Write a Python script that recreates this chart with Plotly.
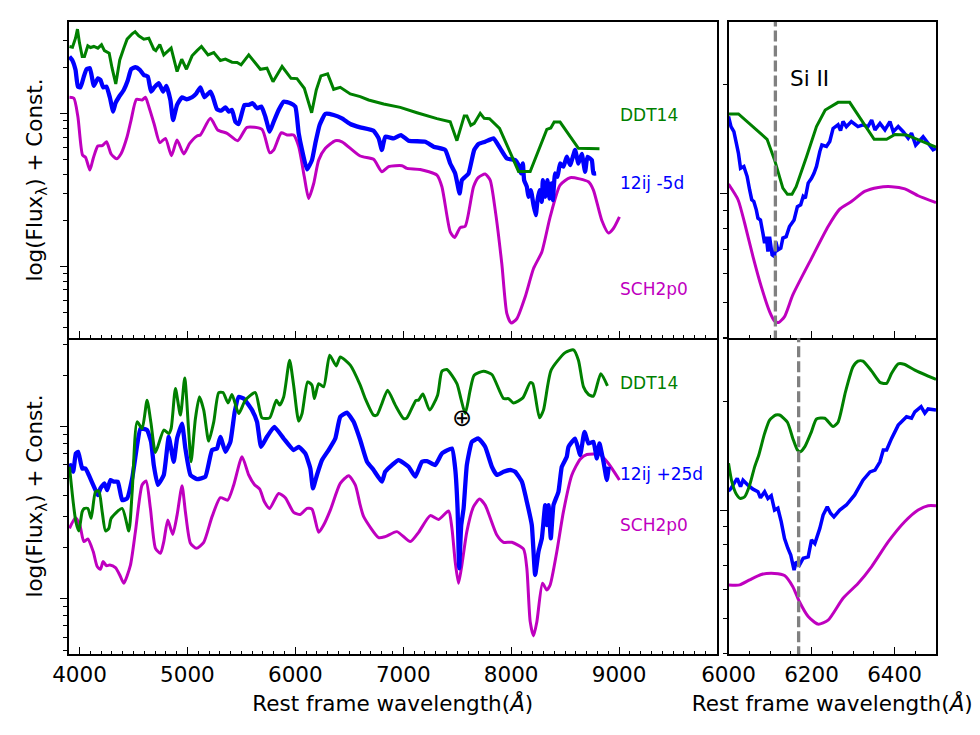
import numpy as np
import plotly.graph_objects as go

# spectra: wavelength (A) and log10(flux) + const per panel
top_ddt_wave = [3907, 3935, 3963, 3981, 4000, 4025, 4046, 4077, 4102, 4133, 4170, 4204, 4231, 4275, 4302, 4336, 4373, 4410, 4441, 4488, 4515, 4549, 4596, 4642, 4688, 4707, 4744, 4781, 4849, 4904, 4947, 4991, 5043, 5089, 5130, 5191, 5244, 5305, 5352, 5413, 5460, 5497, 5568, 5676, 5737, 5793, 5877, 5960, 6015, 6083, 6151, 6194, 6237, 6299, 6355, 6416, 6509, 6601, 6679, 6818, 6972, 7127, 7312, 7435, 7497, 7565, 7589, 7626, 7657, 7713, 7750, 7799, 7892, 8068, 8176, 8330, 8367, 8398, 8453, 8623, 8818]
top_ddt_flux = [.437, .432, .491, .550, .459, .371, .371, .441, .430, .437, .426, .448, .410, .393, .295, .192, .349, .426, .485, .520, .533, .507, .485, .491, .419, .410, .450, .382, .426, .273, .354, .288, .376, .410, .437, .382, .397, .345, .354, .334, .332, .317, .382, .288, .295, .207, .306, .229, .227, .164, .004, .153, .245, .258, .157, .170, .127, .109, .087, .061, .039, .004, -.035, -.055, -.179, -.017, -.017, -.079, -.066, 0, -.033, -.035, -.098, -.380, -.380, -.105, -.096, -.057, -.057, -.229, -.231]

top_obs_wave = [3907, 3932, 3963, 3985, 4009, 4040, 4065, 4096, 4133, 4170, 4194, 4219, 4250, 4281, 4312, 4333, 4364, 4410, 4447, 4478, 4518, 4559, 4596, 4633, 4663, 4694, 4734, 4775, 4805, 4842, 4867, 4904, 4950, 4991, 5043, 5083, 5120, 5157, 5213, 5237, 5274, 5312, 5352, 5383, 5413, 5444, 5475, 5528, 5568, 5605, 5645, 5685, 5722, 5762, 5799, 5845, 5892, 5954, 6000, 6031, 6062, 6108, 6154, 6185, 6225, 6278, 6355, 6432, 6509, 6601, 6725, 6772, 6802, 6833, 6911, 6978, 7049, 7204, 7281, 7389, 7435, 7481, 7522, 7543, 7574, 7605, 7657, 7697, 7759, 7836, 7898, 7960, 8037, 8068, 8089, 8108, 8120, 8145, 8160, 8182, 8207, 8228, 8244, 8262, 8284, 8293, 8315, 8336, 8355, 8373, 8386, 8407, 8429, 8453, 8484, 8515, 8546, 8592, 8623, 8654, 8685, 8707, 8747, 8762, 8787]
top_obs_flux = [.371, .349, .284, .175, .170, .240, .288, .295, .179, .229, .218, .170, .175, .105, .011, .066, .105, .153, .214, .288, .301, .284, .251, .240, .142, .170, .197, .142, .179, .087, -.044, .055, .105, .092, .105, .131, .170, .105, .142, .105, .026, .017, .039, .011, .022, -.055, -.070, .055, .055, .066, .033, .044, -.022, -.120, -.055, .022, .076, .066, .044, -.131, -.240, -.367, -.306, -.197, -.076, -.004, -.011, -.033, -.070, -.092, -.114, -.164, -.240, -.153, -.164, -.142, -.179, -.186, -.218, -.240, -.328, -.393, -.524, -.437, -.415, -.393, -.240, -.201, -.186, -.164, -.229, -.295, -.306, -.338, -.393, -.328, -.437, -.480, -.546, -.502, -.600, -.666, -.568, -.502, -.579, -.437, -.546, -.437, -.557, -.459, -.568, -.393, -.415, -.328, -.349, -.284, -.338, -.240, -.328, -.266, -.382, -.284, -.306, -.393, -.393]

top_sch_wave = [3907, 3948, 3985, 4028, 4056, 4096, 4127, 4170, 4210, 4250, 4293, 4343, 4386, 4441, 4478, 4528, 4580, 4611, 4642, 4694, 4744, 4796, 4852, 4904, 4966, 5021, 5089, 5120, 5213, 5281, 5367, 5466, 5552, 5691, 5762, 5799, 5870, 5923, 5984, 6031, 6083, 6123, 6170, 6216, 6278, 6370, 6432, 6601, 6725, 6802, 6864, 6988, 7034, 7157, 7312, 7358, 7435, 7475, 7528, 7574, 7651, 7697, 7759, 7805, 7852, 7913, 7960, 8000, 8052, 8129, 8207, 8284, 8361, 8453, 8546, 8716, 8762, 8839, 8901, 8947, 9003]
top_sch_flux = [.105, .098, -.022, -.273, -.288, -.371, -.295, -.214, -.212, -.186, -.266, -.297, -.262, -.153, -.044, .092, .087, .105, .044, -.076, -.192, -.164, -.277, -.175, -.266, -.197, -.148, -.142, -.033, -.109, -.131, -.179, -.092, -.105, -.258, -.240, -.127, -.142, -.142, -.218, -.415, -.557, -.459, -.306, -.229, -.179, -.186, -.279, -.301, -.382, -.349, -.343, -.360, -.367, -.404, -.480, -.775, -.812, -.747, -.738, -.480, -.419, -.397, -.437, -.633, -.983, -1.310, -1.371, -1.343, -1.201, -1.015, -.906, -.677, -.469, -.421, -.448, -.502, -.699, -.782, -.753, -.677]

bot_ddt_wave = [3907, 3941, 3966, 3994, 4025, 4046, 4077, 4108, 4148, 4179, 4210, 4241, 4272, 4293, 4395, 4457, 4488, 4534, 4580, 4626, 4663, 4704, 4781, 4827, 4849, 4889, 4935, 4975, 5012, 5034, 5074, 5111, 5151, 5197, 5244, 5290, 5330, 5376, 5413, 5475, 5537, 5629, 5691, 5762, 5824, 5855, 5892, 5947, 5984, 6031, 6062, 6114, 6154, 6176, 6216, 6262, 6318, 6379, 6416, 6509, 6601, 6648, 6725, 6756, 6802, 6855, 6926, 7003, 7034, 7117, 7142, 7182, 7244, 7318, 7358, 7404, 7497, 7534, 7574, 7620, 7657, 7744, 7821, 7929, 7975, 8021, 8108, 8176, 8200, 8262, 8299, 8370, 8500, 8577, 8623, 8670, 8716, 8762, 8830, 8892]
bot_ddt_flux = [-.232, -.435, -.551, -.605, -.493, -.474, -.474, -.532, -.377, -.373, -.493, -.605, -.590, -.532, -.474, -.605, -.377, .029, -.010, .155, .019, -.149, -.019, -.039, -.010, .222, .068, .284, -.029, -.203, .048, .174, .097, -.083, .029, .199, .199, .139, .188, .077, .155, .199, .052, .052, .155, .126, .174, .387, .242, .033, .077, .261, .242, .164, .251, .232, .416, .354, .406, .358, .242, .164, .068, .068, .135, .213, .126, .048, .052, .153, .155, .191, .097, .184, .323, .333, .251, .164, .077, .213, .300, .323, .304, .164, .164, .139, .168, .257, .251, .052, .097, .329, .431, .447, .387, .232, .188, .178, .309, .238]

bot_obs_wave = [3907, 3941, 3966, 3988, 4025, 4056, 4086, 4148, 4170, 4194, 4231, 4256, 4287, 4318, 4355, 4395, 4441, 4488, 4534, 4565, 4626, 4663, 4688, 4725, 4781, 4827, 4873, 4904, 4950, 4981, 5028, 5089, 5166, 5228, 5274, 5305, 5352, 5398, 5438, 5475, 5521, 5599, 5645, 5682, 5737, 5805, 5892, 5984, 6031, 6092, 6139, 6163, 6200, 6247, 6308, 6370, 6416, 6478, 6540, 6601, 6664, 6725, 6802, 6833, 6895, 6957, 7049, 7111, 7173, 7219, 7296, 7358, 7451, 7481, 7503, 7518, 7537, 7559, 7589, 7636, 7697, 7759, 7821, 7867, 7929, 7991, 8037, 8099, 8145, 8191, 8222, 8253, 8284, 8315, 8330, 8346, 8367, 8392, 8438, 8469, 8515, 8531, 8592, 8639, 8679, 8716, 8762, 8793, 8818, 8855, 8886, 8904]
bot_obs_flux = [-.213, -.261, -.155, -.145, -.242, -.242, -.280, -.368, -.397, -.358, -.329, -.368, -.309, -.319, -.319, -.426, -.416, -.300, -.106, -.010, -.019, -.087, -.222, -.338, -.280, -.058, -.203, -.068, .019, -.126, -.280, -.304, -.290, -.135, -.126, -.058, -.145, -.087, .087, .174, .164, .097, .029, -.116, -.058, 0, -.068, -.135, -.116, -.155, -.242, -.358, -.280, -.193, -.135, -.068, .058, .083, .029, -.077, -.203, -.251, -.319, -.261, -.222, -.193, -.232, -.290, -.203, -.199, -.222, -.155, -.126, -.242, -.474, -.822, -.571, -.474, -.222, -.087, -.068, -.116, -.232, -.280, -.261, -.251, -.261, -.319, -.435, -.571, -.861, -.725, -.648, -.455, -.571, -.455, -.648, -.455, -.377, -.232, -.174, -.116, -.068, -.164, -.029, -.097, -.087, -.184, -.097, -.203, -.309, -.232]

bot_sch_wave = [3907, 3963, 4003, 4040, 4077, 4127, 4164, 4194, 4219, 4250, 4281, 4333, 4373, 4410, 4472, 4518, 4580, 4617, 4657, 4704, 4750, 4781, 4818, 4864, 4904, 4950, 4981, 5028, 5083, 5151, 5228, 5305, 5373, 5429, 5506, 5568, 5620, 5670, 5713, 5762, 5845, 5907, 5984, 6046, 6108, 6154, 6216, 6262, 6324, 6416, 6494, 6555, 6601, 6633, 6772, 6833, 6941, 7065, 7142, 7250, 7327, 7420, 7451, 7481, 7512, 7543, 7589, 7651, 7707, 7759, 7867, 7929, 8006, 8114, 8145, 8176, 8207, 8238, 8290, 8330, 8361, 8423, 8484, 8562, 8639, 8701, 8824, 8901, 9003]
bot_sch_flux = [-.590, -.528, -.571, -.667, -.652, -.725, -.812, -.828, -.783, -.807, -.803, -.818, -.861, -.909, -.803, -.609, -.338, -.315, -.474, -.706, -.735, -.667, -.542, -.625, -.513, -.342, -.493, -.677, -.706, -.671, -.522, -.412, -.426, -.338, -.174, -.280, -.335, -.362, -.435, -.474, -.387, -.412, -.497, -.509, -.474, -.478, -.613, -.571, -.484, -.329, -.284, -.338, -.455, -.522, -.644, -.638, -.609, -.667, -.613, -.516, -.538, -.489, -.590, -.783, -.909, -.803, -.609, -.464, -.420, -.455, -.629, -.671, -.671, -.710, -.822, -1.132, -1.215, -1.132, -.909, -.948, -.919, -.725, -.493, -.280, -.188, -.161, -.161, -.213, -.309]

# zoomed Si II panels
si_top_ddt_wave = [6000, 6024, 6093, 6111, 6131, 6142, 6153, 6163, 6188, 6212, 6233, 6264, 6292, 6351, 6381, 6401, 6429, 6500]
si_top_ddt_flux = [.220, .220, .150, .093, .015, -.002, -.002, .019, .102, .185, .231, .252, .252, .150, .150, .163, .162, .128]
si_top_obs_wave = [6000, 6006, 6013, 6019, 6024, 6029, 6037, 6045, 6051, 6056, 6061, 6067, 6071, 6077, 6083, 6087, 6091, 6095, 6099, 6105, 6111, 6114, 6119, 6126, 6131, 6139, 6147, 6158, 6166, 6174, 6180, 6185, 6192, 6200, 6206, 6212, 6220, 6225, 6236, 6244, 6252, 6264, 6270, 6276, 6284, 6296, 6312, 6324, 6336, 6345, 6353, 6365, 6377, 6389, 6397, 6409, 6421, 6433, 6441, 6451, 6459, 6469, 6481, 6493, 6500]
si_top_obs_flux = [.213, .185, .171, .139, .111, .070, .075, .047, .010, -.017, -.022, -.045, -.068, -.073, -.110, -.137, -.119, -.160, -.119, -.169, -.174, -.133, -.156, -.151, -.123, -.119, -.091, -.073, -.036, -.031, -.008, -.013, .029, .042, .056, .075, .116, .134, .130, .144, .180, .190, .174, .199, .185, .199, .185, .190, .185, .203, .176, .194, .176, .199, .171, .185, .171, .153, .167, .134, .144, .157, .139, .121, .125]
si_top_sch_wave = [6000, 6023, 6039, 6059, 6079, 6099, 6111, 6121, 6135, 6155, 6200, 6240, 6268, 6296, 6328, 6361, 6393, 6425, 6457, 6500]
si_top_sch_flux = [.026, -.017, -.082, -.174, -.257, -.326, -.352, -.356, -.340, -.280, -.179, -.091, -.043, -.022, .006, .017, .019, .013, -.006, -.025]

si_bot_ddt_wave = [6000, 6008, 6019, 6029, 6039, 6051, 6063, 6073, 6087, 6099, 6114, 6123, 6142, 6155, 6166, 6173, 6184, 6200, 6212, 6232, 6252, 6264, 6282, 6300, 6312, 6324, 6345, 6366, 6381, 6393, 6409, 6423, 6449, 6500]
si_bot_ddt_flux = [.130, .079, .044, .032, .037, .069, .120, .153, .213, .250, .264, .264, .244, .199, .167, .162, .176, .218, .253, .255, .232, .244, .329, .398, .414, .414, .386, .354, .352, .380, .406, .405, .389, .363]
si_bot_obs_wave = [6000, 6006, 6016, 6021, 6029, 6035, 6047, 6059, 6071, 6077, 6087, 6095, 6103, 6111, 6119, 6127, 6135, 6143, 6150, 6158, 6163, 6171, 6180, 6192, 6200, 6208, 6220, 6228, 6238, 6246, 6254, 6268, 6284, 6304, 6324, 6341, 6353, 6365, 6373, 6381, 6393, 6409, 6429, 6441, 6449, 6464, 6473, 6481, 6500]
si_bot_obs_flux = [.053, .060, .079, .088, .065, .083, .069, .058, .051, .034, .051, .032, .040, 0, .005, -.032, -.079, -.106, -.125, -.167, -.144, -.153, -.134, -.130, -.083, -.093, -.051, -.014, .009, -.009, -.019, 0, .014, .042, .083, .106, .111, .134, .167, .167, .199, .236, .259, .255, .273, .287, .269, .281, .278]
si_bot_sch_wave = [6000, 6027, 6051, 6079, 6111, 6135, 6155, 6171, 6192, 6216, 6240, 6276, 6312, 6345, 6385, 6425, 6457, 6481, 6500]
si_bot_sch_flux = [-.208, -.208, -.194, -.179, -.176, -.182, -.213, -.255, -.296, -.317, -.306, -.245, -.204, -.157, -.088, -.032, 0, .012, .012]

si_line_top = 6113
si_line_bot = 6169

FONT = "DejaVu Sans"
GREEN = "#008000"
BLUE = "#0000ff"
MAGENTA = "#bf00bf"
TICK_SIZE = 21.5
# the page body keeps an 8px margin, so the figure is smaller than the window
PAGE = 8
W, H = 972, 727


def add_spectrum(fig, wave, flux, color, width, panel, smooth=0):
    line = dict(color=color, width=width, simplify=False)
    if smooth:
        line.update(shape="spline", smoothing=smooth)
    fig.add_trace(go.Scatter(
        x=wave, y=10 ** np.array(flux), mode="lines", line=line,
        xaxis="x" + panel, yaxis="y" + panel, showlegend=False,
    ))


def x_axis(left, right, lo, hi, major, minor, anchor, labels, title=None):
    # lower panels skip the mirrored top line, the upper panel's bottom line is already there
    axis = dict(
        domain=[(left - PAGE) / W, (right - PAGE) / W], range=[lo, hi], anchor=anchor, automargin=False,
        showline=True, mirror=not labels, linecolor="black", linewidth=1.5, showgrid=False, zeroline=False,
        tickmode="linear", tick0=0, dtick=major, ticks="inside", ticklen=7, tickwidth=1.2, tickcolor="black",
        minor=dict(tickmode="linear", tick0=0, dtick=minor, ticks="inside", ticklen=3.5, tickwidth=1, tickcolor="black"),
        showticklabels=labels, tickfont=dict(family=FONT, size=TICK_SIZE, color="black"), tickformat="d",
    )
    if title:
        axis["title"] = dict(text=title, font=dict(family=FONT, size=TICK_SIZE, color="black"), standoff=10)
    return axis


def y_axis(top, bottom, lo, hi, minor_ticks, anchor, title=None):
    axis = dict(
        domain=[1 - (bottom - PAGE) / H, 1 - (top - PAGE) / H], type="log", range=[lo, hi], anchor=anchor, automargin=False,
        showline=True, mirror=True, linecolor="black", linewidth=1.5, showgrid=False, zeroline=False,
        tickmode="array", tickvals=[1, 0.1], ticks="outside", ticklen=7, tickwidth=1.2, tickcolor="black",
        minor=dict(tickmode="array", tickvals=minor_ticks, ticks="outside", ticklen=3.5, tickwidth=1, tickcolor="black"),
        showticklabels=False,
    )
    if title:
        axis["title"] = dict(text=title, font=dict(family=FONT, size=TICK_SIZE, color="black"), standoff=11)
    return axis


fig = go.Figure()

add_spectrum(fig, top_sch_wave, top_sch_flux, MAGENTA, 3, "", 0.6)
add_spectrum(fig, top_obs_wave, top_obs_flux, BLUE, 4.3, "", 0.4)
add_spectrum(fig, top_ddt_wave, top_ddt_flux, GREEN, 3, "")
add_spectrum(fig, bot_sch_wave, bot_sch_flux, MAGENTA, 3, "2", 0.6)
add_spectrum(fig, bot_obs_wave, bot_obs_flux, BLUE, 4.3, "2", 0.4)
add_spectrum(fig, bot_ddt_wave, bot_ddt_flux, GREEN, 3, "2", 0.6)
add_spectrum(fig, si_top_sch_wave, si_top_sch_flux, MAGENTA, 3, "3", 0.6)
add_spectrum(fig, si_top_obs_wave, si_top_obs_flux, BLUE, 3.5, "3")
add_spectrum(fig, si_top_ddt_wave, si_top_ddt_flux, GREEN, 3, "3")
add_spectrum(fig, si_bot_sch_wave, si_bot_sch_flux, MAGENTA, 3, "4", 0.6)
add_spectrum(fig, si_bot_obs_wave, si_bot_obs_flux, BLUE, 3.5, "4")
add_spectrum(fig, si_bot_ddt_wave, si_bot_ddt_flux, GREEN, 3, "4", 0.6)

# Si II reference lines
for line_x, panel in [(si_line_top, "3"), (si_line_bot, "4")]:
    fig.add_trace(go.Scatter(
        x=[line_x, line_x], y=[0.39, 3.0], mode="lines",
        line=dict(color="gray", width=3.3, dash="11px,4px"),
        xaxis="x" + panel, yaxis="y" + panel, showlegend=False,
    ))

ticks_top = [3, 2, .9, .8, .7, .6, .5, .4, .3, .2, .09, .08, .07, .06, .05, .04]
ticks_bot = [3, 2, .9, .8, .7, .6, .5, .4, .3, .2, .09, .08, .07, .06, .05]
ticks_si = [3, 2, .9, .8, .7, .6, .5, .4]
y_title = "log(Flux<sub>λ</sub>) + Const."
x_title = "Rest frame wavelength(<i>Å</i>)"

fig.update_layout(
    width=W, height=H, margin=dict(l=0, r=0, t=0, b=0),
    paper_bgcolor="white", plot_bgcolor="white", showlegend=False,
    xaxis=x_axis(68.5, 717, 3898, 9907, 1000, 100, "y", False),
    yaxis=y_axis(22, 338, -1.469, 0.597, ticks_top, "x", y_title),
    xaxis2=x_axis(68.5, 717, 3898, 9907, 1000, 100, "y2", True, x_title),
    yaxis2=y_axis(338, 654, -1.32, 0.516, ticks_bot, "x2", y_title),
    xaxis3=x_axis(728.5, 936, 6000, 6500, 200, 50, "y3", False),
    yaxis3=y_axis(22, 338, -0.399, 0.474, ticks_si, "x3"),
    xaxis4=x_axis(728.5, 936, 6000, 6500, 200, 50, "y4", True, x_title),
    yaxis4=y_axis(338, 654, -0.4, 0.478, ticks_si, "x4"),
)

labels = [
    ("DDT14", 9000, -0.011, GREEN, "x", "y"),
    ("12ij -5d", 9000, -0.456, BLUE, "x", "y"),
    ("SCH2p0", 9000, -1.148, MAGENTA, "x", "y"),
    ("DDT14", 9000, 0.254, GREEN, "x2", "y2"),
    ("12ij +25d", 9000, -0.275, BLUE, "x2", "y2"),
    ("SCH2p0", 9000, -0.571, MAGENTA, "x2", "y2"),
]
for text, x, y, color, xref, yref in labels:
    fig.add_annotation(text=text, x=x, y=y, xref=xref, yref=yref, xanchor="left", yanchor="middle",
                       showarrow=False, borderpad=0, font=dict(family=FONT, size=17, color=color))
fig.add_annotation(text="Si II", x=6196, y=0.317, xref="x3", yref="y3", showarrow=False,
                   font=dict(family=FONT, size=TICK_SIZE, color="black"))
fig.add_annotation(text="⊕", x=7546, y=0.05, xref="x2", yref="y2", showarrow=False,
                   font=dict(family=FONT, size=24, color="black"))

fig.write_html("out.html")
